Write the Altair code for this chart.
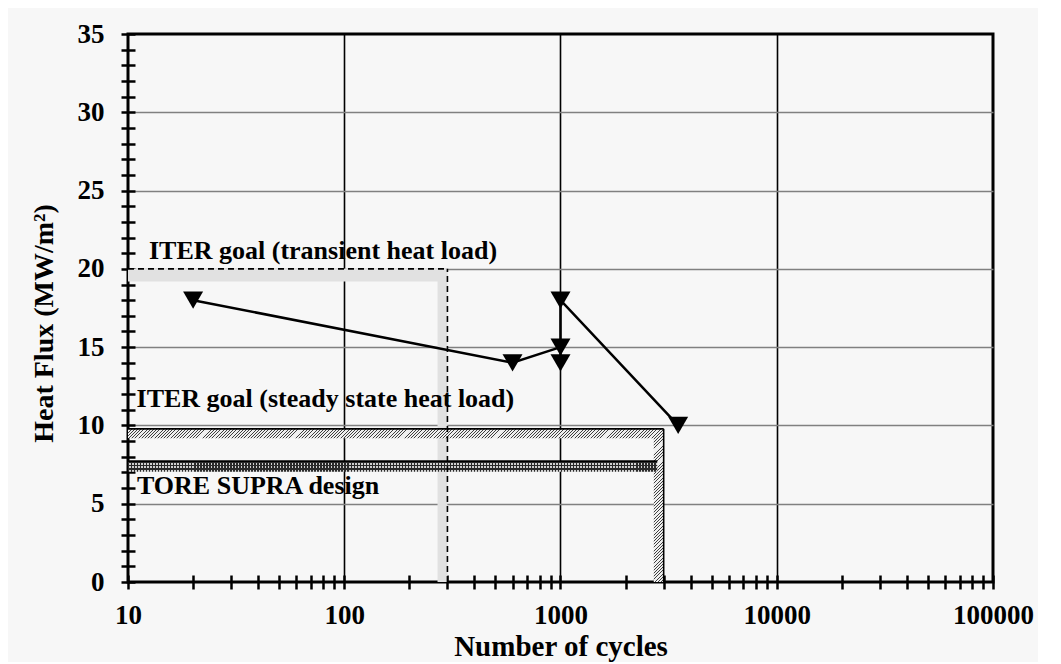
import math
import altair as alt
import pandas as pd

# ---------------- data ----------------
cycles = [20, 600, 1000, 1000, 1000, 3500]
flux = [18, 14, 15, 14, 18, 10]

x_major = [10, 100, 1000, 10000, 100000]
x_ticks = [m * 10 ** e for e in range(1, 5) for m in range(1, 10)] + [100000]
y_ticks = list(range(0, 36))

# ITER transient goal (grey L-shaped band)
trans_x = [10, 270]
trans_x2 = [300, 300]
trans_y = [19.2, 0]
trans_y2 = [20, 20]

# ITER steady state goal (hatched L-shaped band): horizontal arm, vertical arm
steady_h = (10, 3000, 9.18, 9.78)
steady_v = (2700, 3000, 0, 9.78)

# TORE SUPRA design (cross hatched band)
tore_band = (10, 2800, 7.04, 7.72)

# outline lines
dash_x = [10, 300]
dash_x2 = [300, 300]
dash_y = [20, 0]
dash_y2 = [20, 20]

edge_x = [10, 3000, 10]
edge_x2 = [3000, 3000, 2800]
edge_y = [9.78, 0, 7.72]
edge_y2 = [9.78, 9.78, 7.72]

label_text = ["ITER goal (transient heat load)", "ITER goal (steady state heat load)", "TORE SUPRA design"]
label_x = [12.5, 10.95, 11.0]
label_y = [20.63, 11.2, 5.63]

# ---------------- styling ----------------
FONT = "Liberation Serif"
W_PLOT, H_PLOT = 865, 548
X_DOM, Y_DOM = (10, 100000), (0, 35)

xscale = alt.Scale(type="log", domain=list(X_DOM), nice=False)
yscale = alt.Scale(domain=list(Y_DOM), nice=False, zero=False)

common_axis = dict(
    domain=False, offset=-7, tickSize=14, tickWidth=2.5, tickColor="black",
    labelFont=FONT, labelFontSize=27, labelFontWeight="bold", labelColor="black",
    titleFont=FONT, titleFontWeight="bold", titleColor="black",
    labelOverlap=False, labelFlush=False,
)

xaxis = alt.Axis(
    values=x_ticks,
    title="Number of cycles",
    labelExpr="indexof([10,100,1000,10000,100000], datum.value) >= 0 ? toString(datum.value) : ''",
    gridColor="black", gridWidth=1.6,
    gridOpacity={"condition": {"test": "datum.value == 100 || datum.value == 1000 || datum.value == 10000", "value": 1}, "value": 0},
    labelPadding=13, titleFontSize=29, titleY=80, titleBaseline="alphabetic",
    **common_axis,
)

yaxis = alt.Axis(
    values=y_ticks,
    title="Heat Flux (MW/m²)",
    labelExpr="datum.value % 5 == 0 ? datum.label : ''",
    gridColor="#808080", gridWidth=1.3,
    gridOpacity={"condition": {"test": "datum.value % 5 == 0 && datum.value > 0 && datum.value < 35", "value": 1}, "value": 0},
    labelPadding=17, titleFontSize=28, titleX=-91, titleY=289, titleAngle=-90,
    titleBaseline="middle", titleAlign="center",
    **common_axis,
)


def X(f):
    return alt.X(f, type="quantitative", scale=xscale, axis=xaxis)


def Y(f):
    return alt.Y(f, type="quantitative", scale=yscale, axis=yaxis)


def px_size(band):
    """pixel width/height of a band on the plot (used only to shape hatch patterns)"""
    x0, x1, y0, y1 = band
    w = W_PLOT * (math.log10(x1) - math.log10(x0)) / (math.log10(X_DOM[1]) - math.log10(X_DOM[0]))
    h = H_PLOT * (y1 - y0) / (Y_DOM[1] - Y_DOM[0])
    return w, h


def stripe_stops(n, frac, dark, light):
    stops = []
    for i in range(n):
        a = i / n
        b = (i + frac) / n
        stops += [{"offset": a, "color": dark}, {"offset": b, "color": dark},
                  {"offset": b, "color": light}, {"offset": (i + 1) / n, "color": light}]
    return stops


def diag_hatch(band, period=3.2, frac=0.3, dark="#404040", light="#efefef"):
    w, h = px_size(band)
    k = (w + h) / (w * w + h * h)
    n = max(1, int(round((w + h) / period)))
    return {"gradient": "linear", "x1": 0, "y1": 0, "x2": k * w, "y2": k * h,
            "stops": stripe_stops(n, frac, dark, light)}


def straight_hatch(band, vertical, period, frac, dark, light):
    w, h = px_size(band)
    n = max(1, int(round((w if vertical else h) / period)))
    g = {"gradient": "linear", "x1": 0, "y1": 0, "x2": 1 if vertical else 0, "y2": 0 if vertical else 1,
         "stops": stripe_stops(n, frac, dark, light)}
    return g


def rect_layer(xs, x2s, ys, y2s, fill):
    df = pd.DataFrame({"x": xs, "x2": x2s, "y": ys, "y2": y2s})
    return alt.Chart(df).mark_rect(fill=fill, strokeWidth=0).encode(
        x=X("x"), x2="x2", y=Y("y"), y2="y2"
    )


def band_layer(band, fill):
    return rect_layer([band[0]], [band[1]], [band[2]], [band[3]], fill)


def rule_layer(xs, x2s, ys, y2s, **kw):
    df = pd.DataFrame({"x": xs, "x2": x2s, "y": ys, "y2": y2s})
    return alt.Chart(df).mark_rule(color="black", **kw).encode(
        x=X("x"), x2="x2", y=Y("y"), y2="y2"
    )


trans = rect_layer(trans_x, trans_x2, trans_y, trans_y2, "#e1e1e1")
steady1 = band_layer(steady_h, diag_hatch(steady_h))
steady2 = band_layer(steady_v, diag_hatch(steady_v))
tore1 = band_layer(tore_band, straight_hatch(tore_band, True, 3.0, 0.45, "#2a2a2a", "#d0d0d0"))
tore2 = band_layer(tore_band, straight_hatch(tore_band, False, 3.4, 0.4, "#2a2a2a", "rgba(0,0,0,0)"))

dashes = rule_layer(dash_x, dash_x2, dash_y, dash_y2, strokeDash=[6, 4], strokeWidth=1.6)
edges = rule_layer(edge_x, edge_x2, edge_y, edge_y2, strokeWidth=1.6)

series = pd.DataFrame({"x": cycles, "y": flux, "o": list(range(len(cycles)))})
line = alt.Chart(series).mark_line(color="black", strokeWidth=2.5).encode(
    x=X("x"), y=Y("y"), order="o:Q"
)
points = alt.Chart(series).mark_point(
    shape="triangle-down", filled=True, size=400, color="black", opacity=1
).encode(x=X("x"), y=Y("y"))

labels_df = pd.DataFrame({"x": label_x, "y": label_y, "t": label_text})
labels = alt.Chart(labels_df).mark_text(
    align="left", baseline="alphabetic", font=FONT, fontSize=26, fontWeight="bold", color="black"
).encode(x=X("x"), y=Y("y"), text="t:N")

chart = alt.layer(trans, steady1, steady2, tore1, tore2, dashes, edges, line, points, labels).properties(
    width=W_PLOT,
    height=H_PLOT,
    background="#f7f7f7",
    padding={"left": 120, "top": 26, "right": 45, "bottom": 80},
    autosize=alt.AutoSizeParams(type="none"),
).configure_view(stroke="black", strokeWidth=3)

chart.save("out.html", embed_options={"renderer": "svg", "actions": False})
